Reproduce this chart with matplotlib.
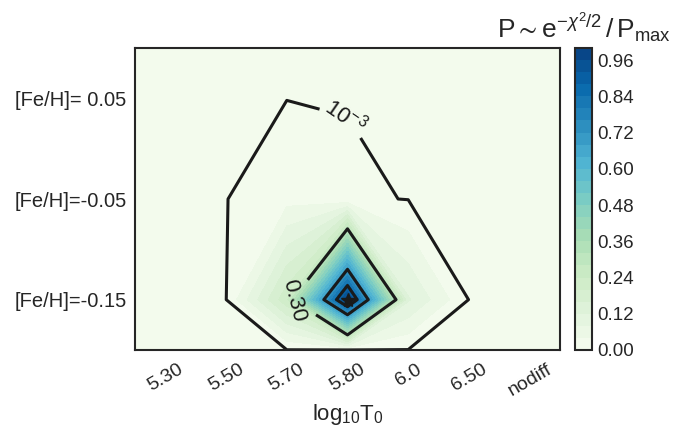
import numpy as np
import matplotlib.pyplot as plt

plt.rcParams['font.family'] = ['Liberation Sans', 'DejaVu Sans']
plt.rcParams['mathtext.fontset'] = 'custom'
plt.rcParams['mathtext.rm'] = 'Liberation Sans'
plt.rcParams['mathtext.it'] = 'Liberation Sans:italic'
plt.rcParams['mathtext.default'] = 'regular'
plt.rcParams['text.color'] = '0.15'
plt.rcParams['xtick.color'] = '0.15'
plt.rcParams['ytick.color'] = '0.15'
plt.rcParams['axes.labelcolor'] = '0.15'

t0_labels = ['5.30', '5.50', '5.70', '5.80', '6.0', '6.50', 'nodiff']
feh = [-0.15, -0.05, 0.05]

# P / Pmax, one row per [Fe/H], one column per log10 T0
p_feh_m015 = [0.0, 0.0003, 0.23, 1.0, 0.125, 0.0002, 0.0]
p_feh_m005 = [0.0, 0.0002, 0.025, 0.0055, 0.0001, 0.0001, 0.0]
p_feh_p005 = [0.0, 0.0, 0.0005, 0.0, 0.0, 0.0, 0.0]

contour_levels = [1e-3, 0.30, 0.70, 0.86]
fill_levels = np.linspace(0, 1, 26)
cbar_ticks = np.arange(0, 1.0, 0.12)

prob = np.array([p_feh_m015, p_feh_m005, p_feh_p005])

# pad with zeros half a cell outside the grid
prob_pad = np.pad(prob, 1)
xs = np.concatenate([[-0.5], np.arange(len(t0_labels)), [len(t0_labels) - 0.5]])
ys = np.concatenate([[-0.5], np.arange(len(feh)), [len(feh) - 0.5]])

fig = plt.figure(figsize=(6.81, 4.28), dpi=100)
ax = fig.add_axes([135 / 681, 78 / 428, 425 / 681, 302 / 428])
cax = fig.add_axes([575 / 681, 78 / 428, 17 / 681, 302 / 428])

cf = ax.contourf(xs, ys, prob_pad, levels=fill_levels, cmap='GnBu')
cs = ax.contour(xs, ys, prob_pad, levels=contour_levels, colors='0.1', linewidths=2.2)
ax.clabel(cs, [1e-3, 0.30], fmt={1e-3: r'$10^{-3}$', 0.30: '0.30'},
          fontsize=16, manual=[(2.95, 1.78), (2.12, 0.0)])

iy, ix = np.unravel_index(np.argmax(prob), prob.shape)
ax.plot(ix, iy, marker='*', color='0.1', ms=10)

ax.set_xlim(-0.5, len(t0_labels) - 0.5)
ax.set_ylim(-0.5, len(feh) - 0.5)
ax.set_xticks(range(len(t0_labels)))
ax.set_xticklabels(t0_labels, rotation=30, fontsize=14)
ax.set_yticks(range(len(feh)))
ax.set_yticklabels([f'[Fe/H]={v:5.2f}' for v in feh], fontsize=14.5)
ax.tick_params(axis='y', length=0, pad=6)
ax.tick_params(axis='x', length=0, pad=8)
ax.set_xlabel(r'$log_{10}T_0$', fontsize=16, labelpad=2)
for s in ax.spines.values():
    s.set_color('0.15')
    s.set_linewidth(1.5)

cb = fig.colorbar(cf, cax=cax, ticks=cbar_ticks)
cb.ax.tick_params(length=0, labelsize=13.5)
cb.outline.set_edgecolor('0.15')
cb.outline.set_linewidth(1.5)
cb.ax.set_title(r'$P \sim e^{-\mathit{\chi}^{2}/2}\,/\,P_{max}$', fontsize=19, pad=7)

fig.savefig('out.png', dpi=100)
